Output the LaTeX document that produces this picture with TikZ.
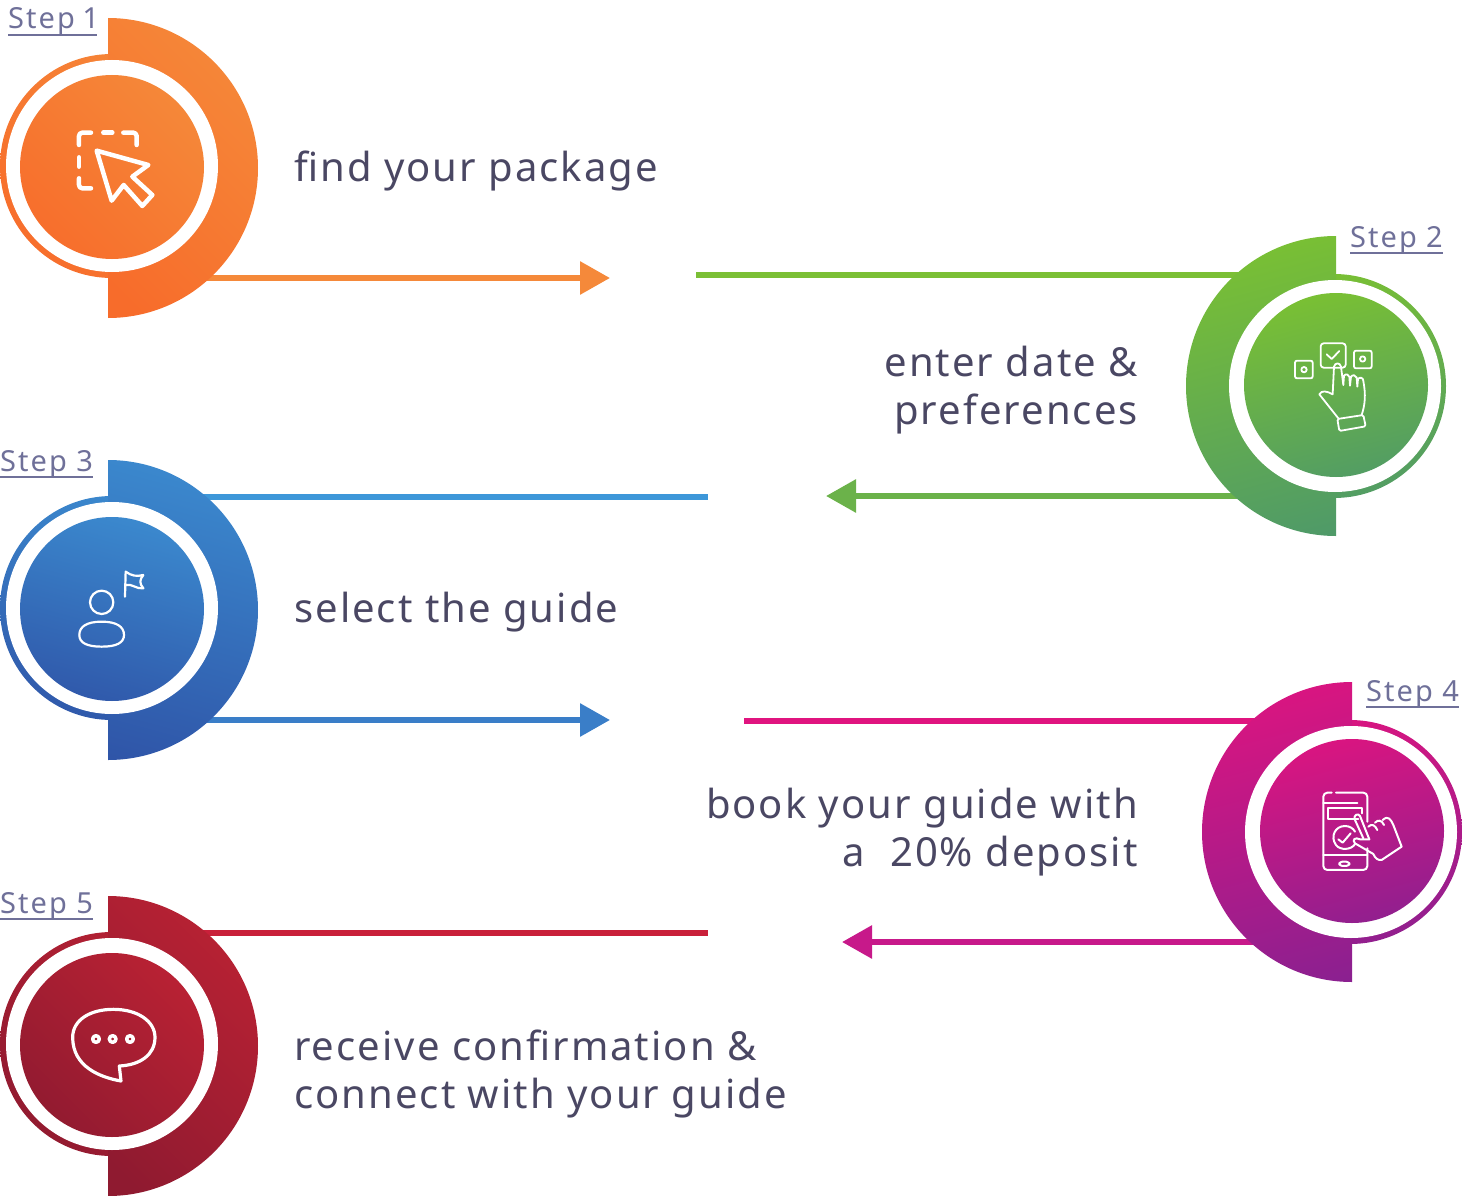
\documentclass[tikz,border=0pt]{standalone}
\usepackage{fontspec}
\setmainfont{Noto Sans}
\newfontfamily\stepfont[LetterSpace=7,Numbers=Proportional]{Noto Sans}
\newfontfamily\bodyfont[LetterSpace=5.1]{Noto Sans}
\usetikzlibrary{positioning,calc,arrows.meta}
\definecolor{inktext}{HTML}{4A4763}
\definecolor{inkstep}{HTML}{6F7099}
\definecolor{orangetop}{HTML}{F58A3A}\definecolor{orangebot}{HTML}{F76C2B}
\definecolor{greentop}{HTML}{7DC32F}\definecolor{greenbot}{HTML}{4F9A68}
\definecolor{bluetop}{HTML}{3C8DD1}\definecolor{bluebot}{HTML}{2F55A8}
\definecolor{pinktop}{HTML}{E0147F}\definecolor{pinkbot}{HTML}{8B2090}
\definecolor{redtop}{HTML}{BC2234}\definecolor{redbot}{HTML}{8F1A30}
\definecolor{lineorange}{HTML}{F5893A}
\definecolor{linegreena}{HTML}{7BBF35}
\definecolor{linegreenb}{HTML}{6BB24A}
\definecolor{linebluea}{HTML}{3D97D9}
\definecolor{lineblueb}{HTML}{3A7EC8}
\definecolor{linepinka}{HTML}{E0147F}
\definecolor{linepinkb}{HTML}{C7198A}
\definecolor{linered}{HTML}{C9203A}
\pgfdeclareverticalshading{orangeramp}{100bp}{color(0bp)=(orangebot); color(20bp)=(orangebot); color(80bp)=(orangetop); color(100bp)=(orangetop)}
\pgfdeclareverticalshading{greenramp}{100bp}{color(0bp)=(greenbot); color(20bp)=(greenbot); color(80bp)=(greentop); color(100bp)=(greentop)}
\pgfdeclareverticalshading{blueramp}{100bp}{color(0bp)=(bluebot); color(20bp)=(bluebot); color(80bp)=(bluetop); color(100bp)=(bluetop)}
\pgfdeclareverticalshading{pinkramp}{100bp}{color(0bp)=(pinkbot); color(20bp)=(pinkbot); color(80bp)=(pinktop); color(100bp)=(pinktop)}
\pgfdeclareverticalshading{redramp}{100bp}{color(0bp)=(redbot); color(20bp)=(redbot); color(80bp)=(redtop); color(100bp)=(redtop)}
\tikzset{
  orangeshade/.style={shading=orangeramp,shading angle=-45},
  greenshade/.style={shading=greenramp,shading angle=15},
  blueshade/.style={shading=blueramp,shading angle=-15},
  pinkshade/.style={shading=pinkramp,shading angle=15},
  redshade/.style={shading=redramp,shading angle=-45},
  steplabel/.style={font=\stepfont\fontsize{29}{34}\selectfont,text=inkstep,inner sep=0pt},
  bodylabel/.style={font=\bodyfont\fontsize{40}{48}\selectfont,text=inktext,inner sep=0pt},
  iconline/.style={draw=white,line join=round,line cap=round,fill=none},
  tipline/.style={line width=6pt,-{Triangle[length=30pt,width=32pt]}},
  plainline/.style={line width=6pt},
}
% ring, half disc, white gap and inner disc
\newcommand{\stepdisc}[3]{%
  \shade[#3] (#1+4,#2-2) circle (112);
  \shade[#3] (#1,#2-150) arc (-90:90:150) -- cycle;
  \fill[white] (#1+4,#2-2) circle (106);
  \shade[#3] (#1+4,#2-1) circle (92);
}
\newcommand{\stepdiscleft}[3]{%
  \shade[#3] (#1-2,#2) circle (112);
  \shade[#3] (#1,#2-150) arc (-90:-270:150) -- cycle;
  \fill[white] (#1-1,#2) circle (106);
  \shade[#3] (#1,#2-1) circle (92);
}
\begin{document}
\begin{tikzpicture}[x=1pt,y=-1pt]
\useasboundingbox (0,0) rectangle (1462,1196);

% connectors go under the discs
\coordinate (o1) at (150,278); \coordinate (o2) at (610,278);
\coordinate (g1) at (696,275); \coordinate (g2) at (1280,275);
\coordinate (g3) at (1280,496); \coordinate (g4) at (826,496);
\coordinate (b1) at (150,497); \coordinate (b2) at (708,497);
\coordinate (b3) at (150,720); \coordinate (b4) at (610,720);
\coordinate (p1) at (744,721); \coordinate (p2) at (1300,721);
\coordinate (p3) at (1300,942); \coordinate (p4) at (842,942);
\coordinate (r1) at (150,933); \coordinate (r2) at (708,933);
\draw[tipline,lineorange] (o1) -- (o2);
\draw[plainline,linegreena] (g1) -- (g2);
\draw[tipline,linegreenb] (g3) -- (g4);
\draw[plainline,linebluea] (b1) -- (b2);
\draw[tipline,lineblueb] (b3) -- (b4);
\draw[plainline,linepinka] (p1) -- (p2);
\draw[tipline,linepinkb] (p3) -- (p4);
\draw[plainline,linered] (r1) -- (r2);

\stepdisc{108}{168}{orangeshade}
\stepdiscleft{1336}{386}{greenshade}
\stepdisc{108}{610}{blueshade}
\stepdiscleft{1352}{832}{pinkshade}
\stepdisc{108}{1046}{redshade}

% step labels
\node (stepa) at (8,29) [steplabel,anchor=base west] {Step 1};
\node (stepb) at (1350,247) [steplabel,anchor=base west] {Step 2};
\node (stepc) at (0,471) [steplabel,anchor=base west] {Step 3};
\node (stepd) at (1366,701) [steplabel,anchor=base west] {Step 4};
\node (stepe) at (0,913) [steplabel,anchor=base west] {Step 5};
\foreach \s/\y in {stepa/35,stepb/253,stepc/477,stepd/707,stepe/919}
  \draw[inkstep,line width=1.6pt] (\s.west |- 0,\y) -- (\s.east |- 0,\y);

% body text
\node (texta) at (294,182) [bodylabel,anchor=base west] {find your package};
\node (textb) at (1138,390) [bodylabel,anchor=east,align=right] {enter date \&\\preferences};
\node (textc) at (294,622) [bodylabel,anchor=base west] {select the guide};
\node (textd) at (1138,832) [bodylabel,anchor=east,align=right] {book your guide with\\a\ \ 20\% deposit};
\node (texte) at (294,1074) [bodylabel,anchor=west,align=left] {receive confirmation \&\\connect with your guide};

% cursor icon
\begin{scope}[shift={(65,120)},scale=0.3333,line width=4.5pt]
\draw[iconline] (42,75) -- (42,48) arc (180:270:10) -- (78,38);
\draw[iconline] (115,38) -- (142,38);
\draw[iconline] (175,38) -- (205,38) arc (-90:0:10) -- (215,75);
\draw[iconline] (42,112) -- (42,140);
\draw[iconline] (42,175) -- (42,195) arc (180:90:10) -- (78,205);
\draw[iconline] (95,92) -- (250,135) -- (202,170) -- (262,225) -- (232,258) -- (176,195) -- (140,242) -- cycle;
\end{scope}

% hand icon
\begin{scope}[shift={(1280,335)},scale=0.3333,line width=1.8pt]
\draw[iconline,rounded corners=3pt] (122,25) rectangle (197,98);
\draw[iconline] (140,58) -- (155,72) -- (178,48);
\draw[iconline,rounded corners=2pt] (45,77) rectangle (98,130);
\draw[iconline] (72,104) circle (8);
\draw[iconline,rounded corners=2pt] (222,47) rectangle (275,100);
\draw[iconline] (248,72) circle (8);
\draw[iconline] (175,250) -- (118,178) .. controls (125,165) and (140,168) .. (158,178)
  -- (162,95) .. controls (165,82) and (180,82) .. (183,95) -- (190,150)
  -- (192,122) .. controls (198,115) and (206,118) .. (208,125) -- (210,152)
  -- (213,125) .. controls (218,118) and (228,120) .. (230,128) -- (232,155)
  -- (234,132) .. controls (240,125) and (250,128) .. (250,138)
  .. controls (258,180) and (255,210) .. (245,240);
\draw[iconline,rounded corners=1.5pt] (172,252) -- (250,240) -- (257,274) -- (178,288) -- cycle;
\end{scope}

% guide icon
\begin{scope}[shift={(60,560)},scale=0.3333,line width=2.2pt]
\draw[iconline] (125,127) circle (35);
\draw[iconline] (125,185) .. controls (170,185) and (192,200) .. (192,225)
  .. controls (192,248) and (170,260) .. (125,260)
  .. controls (80,260) and (58,248) .. (58,225)
  .. controls (58,200) and (80,185) .. (125,185) -- cycle;
\draw[iconline] (195,110) -- (197,35) .. controls (215,48) and (230,50) .. (250,45)
  .. controls (238,60) and (238,70) .. (250,85) .. controls (230,88) and (215,70) .. (197,75);
\end{scope}

% phone icon
\begin{scope}[shift={(1300,780)},scale=0.3333,line width=2pt]
\draw[iconline,rounded corners=4pt] (95,38) -- (70,38) -- (70,270) -- (202,270) -- (202,205);
\draw[iconline,rounded corners=4pt] (108,38) -- (202,38) -- (202,125);
\draw[iconline] (70,68) -- (172,68);
\draw[iconline] (70,225) -- (202,225);
\draw[iconline,rounded corners=3pt] (118,245) rectangle (148,258);
\draw[iconline] (175,118) -- (85,118) -- (85,85) -- (185,85) -- (185,100);
\draw[iconline] (165,192) .. controls (155,210) and (120,212) .. (108,195)
  .. controls (90,170) and (105,138) .. (135,138) .. controls (148,138) and (160,145) .. (165,155);
\draw[iconline] (115,178) -- (128,188) -- (152,160);
\draw[iconline] (208,178) -- (180,108) .. controls (175,98) and (158,105) .. (165,120) -- (190,175);
\draw[iconline] (205,140) .. controls (215,130) and (225,135) .. (232,150);
\draw[iconline] (225,128) .. controls (235,118) and (245,120) .. (252,135);
\draw[iconline] (248,120) .. controls (265,105) and (272,118) .. (280,135)
  -- (305,200) -- (245,240) .. controls (235,242) and (225,235) .. (220,222)
  -- (165,190) .. controls (155,180) and (165,170) .. (180,178) -- (208,178);
\end{scope}

% speech icon
\begin{scope}[shift={(60,1000)},scale=0.3333,line width=3.2pt]
\draw[iconline] (178,198) -- (183,243) .. controls (120,232) and (38,200) .. (38,112)
  .. controls (38,60) and (90,28) .. (160,28)
  .. controls (235,28) and (285,65) .. (285,112)
  .. controls (285,165) and (240,195) .. (178,198) -- cycle;
\foreach \cx in {108,158,210} \draw[iconline,line width=3.5pt] (\cx,117) circle (10);
\end{scope}
\end{tikzpicture}
\end{document}
